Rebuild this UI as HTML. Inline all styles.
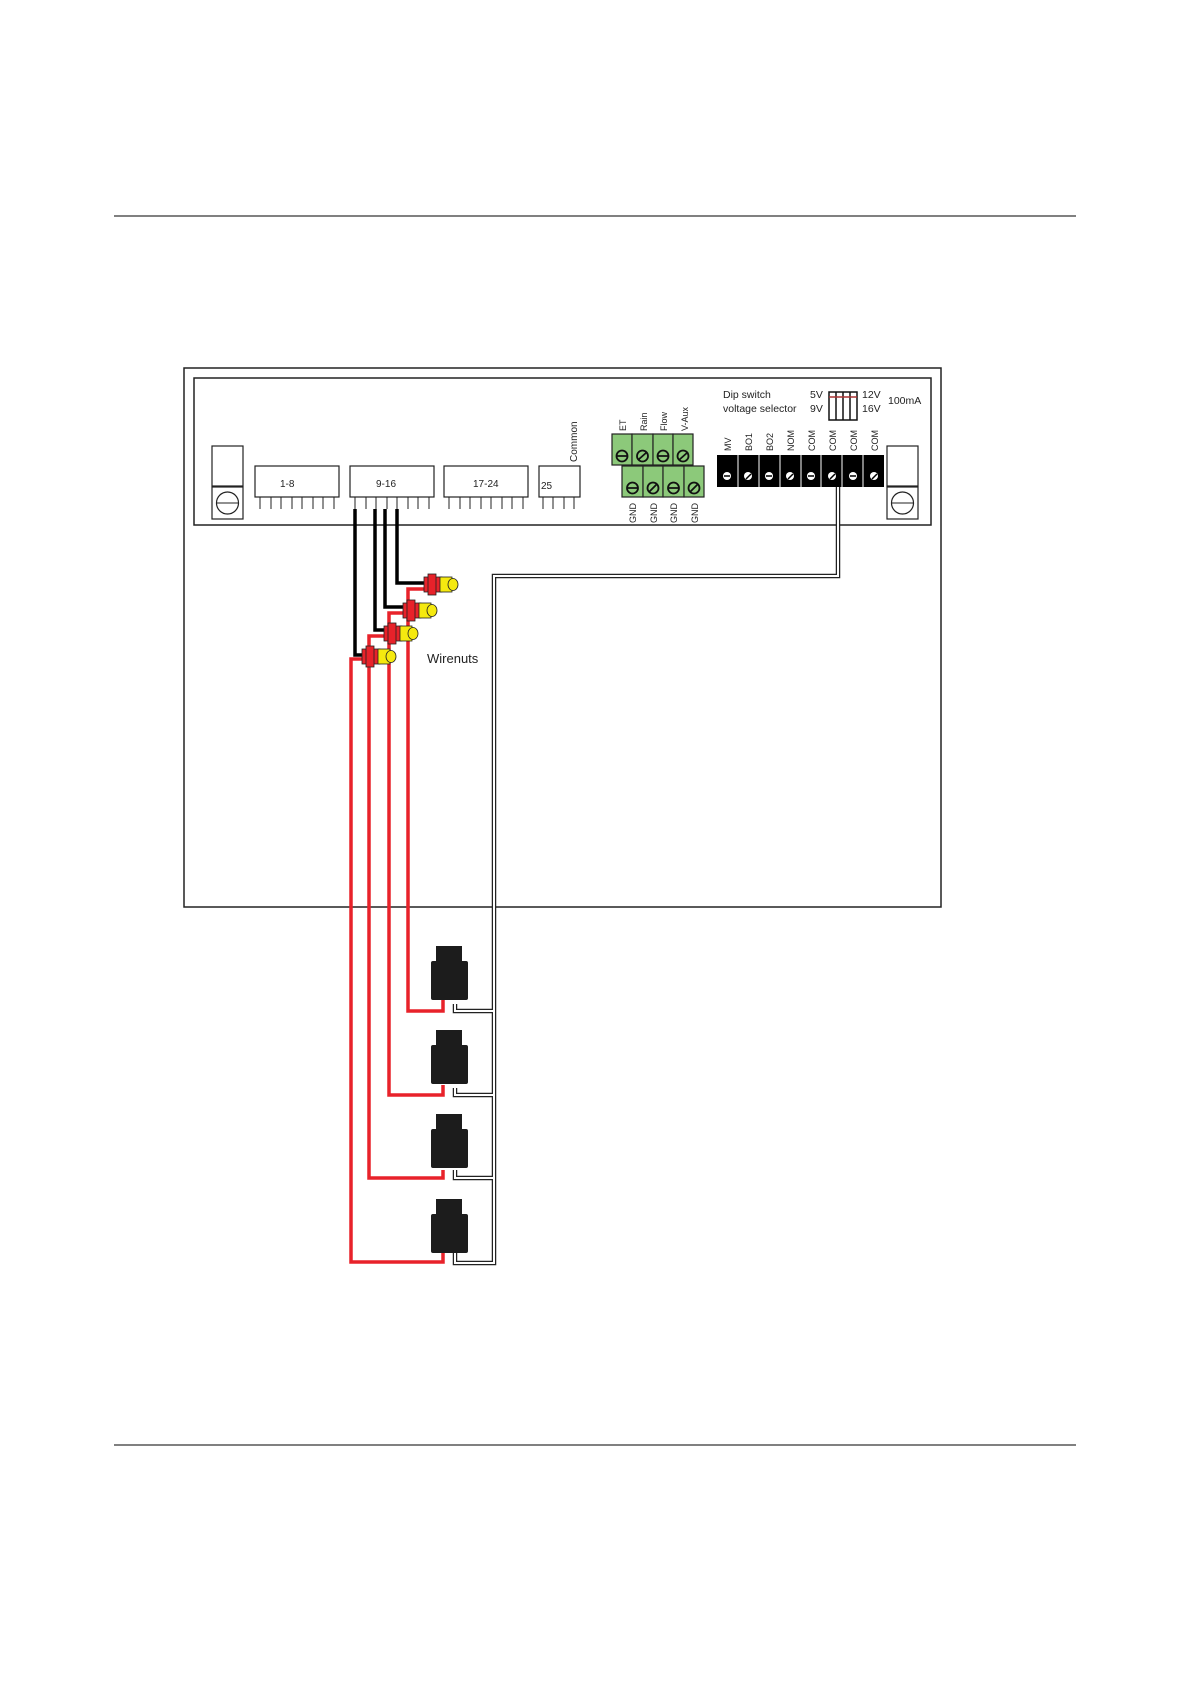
<!DOCTYPE html>
<html><head><meta charset="utf-8"><style>body{margin:0;background:#fff}svg{display:block}text{font-family:"Liberation Sans",sans-serif}</style></head>
<body>
<svg width="1190" height="1684" viewBox="0 0 1190 1684" xmlns="http://www.w3.org/2000/svg">
<line x1="114" y1="216" x2="1076" y2="216" stroke="#000" stroke-width="1"/>
<line x1="114" y1="1445" x2="1076" y2="1445" stroke="#000" stroke-width="1"/>
<rect x="184" y="368" width="757" height="539" fill="none" stroke="#222" stroke-width="1.5"/>
<rect x="194" y="378" width="737" height="147" fill="none" stroke="#222" stroke-width="1.5"/>
<!-- left terminal -->
<rect x="212" y="446" width="31" height="40" fill="#fff" stroke="#222" stroke-width="1.2"/>
<rect x="212" y="487" width="31" height="32" fill="#fff" stroke="#222" stroke-width="1.2"/>
<circle cx="227.5" cy="503" r="11" fill="none" stroke="#222" stroke-width="1.2"/><line x1="216" y1="503" x2="239" y2="503" stroke="#222"/>
<!-- right terminal -->
<rect x="887" y="446" width="31" height="40" fill="#fff" stroke="#222" stroke-width="1.2"/>
<rect x="887" y="487" width="31" height="32" fill="#fff" stroke="#222" stroke-width="1.2"/>
<circle cx="902.5" cy="503" r="11" fill="none" stroke="#222" stroke-width="1.2"/><line x1="891" y1="503" x2="914" y2="503" stroke="#222"/>
<!-- blocks -->
<g stroke="#222" stroke-width="1.2" fill="#fff">
<rect x="255" y="466" width="84" height="31"/><rect x="350" y="466" width="84" height="31"/><rect x="444" y="466" width="84" height="31"/><rect x="539" y="466" width="41" height="31"/>
</g>
<g stroke="#222" stroke-width="1">
<path d="M260 497v12M271 497v12M281 497v12M292 497v12M302 497v12M313 497v12M323 497v12M334 497v12"/>
<path d="M355 497v12M366 497v12M376 497v12M387 497v12M397 497v12M408 497v12M418 497v12M429 497v12"/>
<path d="M449 497v12M460 497v12M470 497v12M481 497v12M491 497v12M502 497v12M512 497v12M523 497v12"/>
<path d="M543 497v12M553 497v12M564 497v12M574 497v12"/>
</g>
<g font-size="10" fill="#222">
<text x="280" y="487">1-8</text><text x="376" y="487">9-16</text><text x="473" y="487">17-24</text><text x="541" y="489">25</text>
<text transform="translate(577,462) rotate(-90)">Common</text>
</g>
<!-- green terminals -->
<g fill="#8cc97a" stroke="#222" stroke-width="1.2">
<rect x="612" y="434" width="20" height="31"/><rect x="632" y="434" width="21" height="31"/><rect x="653" y="434" width="20" height="31"/><rect x="673" y="434" width="20" height="31"/>
<rect x="622" y="466" width="21" height="31"/><rect x="643" y="466" width="20" height="31"/><rect x="663" y="466" width="21" height="31"/><rect x="684" y="466" width="20" height="31"/>
</g>
<g fill="none" stroke="#111" stroke-width="1.8">
<circle cx="622" cy="456" r="5.5"/><circle cx="642.5" cy="456" r="5.5"/><circle cx="663" cy="456" r="5.5"/><circle cx="683" cy="456" r="5.5"/>
<circle cx="632.5" cy="488" r="5.5"/><circle cx="653" cy="488" r="5.5"/><circle cx="673.5" cy="488" r="5.5"/><circle cx="694" cy="488" r="5.5"/>
<path d="M617 456h10M638 460l9-8M658 456h10M679 460l9-8M628 488h10M649 492l8-8M669 488h10M690 492l8-8"/>
</g>
<g font-size="9" fill="#222">
<text transform="translate(626,431) rotate(-90)">ET</text>
<text transform="translate(647,431) rotate(-90)">Rain</text>
<text transform="translate(667,431) rotate(-90)">Flow</text>
<text transform="translate(688,431) rotate(-90)">V-Aux</text>
<text transform="translate(636,523) rotate(-90)">GND</text>
<text transform="translate(657,523) rotate(-90)">GND</text>
<text transform="translate(677,523) rotate(-90)">GND</text>
<text transform="translate(698,523) rotate(-90)">GND</text>
</g>
<!-- black terminals -->
<rect x="717" y="455" width="167" height="32" fill="#000"/>
<g stroke="#fff" stroke-width="1"><path d="M738 455v32M759 455v32M780 455v32M801 455v32M821 455v32M842 455v32M863 455v32"/></g>
<g fill="#fff"><circle cx="727" cy="476" r="4"/><circle cx="748" cy="476" r="4"/><circle cx="769" cy="476" r="4"/><circle cx="790" cy="476" r="4"/><circle cx="811" cy="476" r="4"/><circle cx="832" cy="476" r="4"/><circle cx="853" cy="476" r="4"/><circle cx="874" cy="476" r="4"/></g>
<g stroke="#000" stroke-width="1.5"><path d="M724 476h6M746 479l5-5M766 476h6M788 479l5-5M808 476h6M830 479l5-5M850 476h6M872 479l5-5"/></g>
<g font-size="9" fill="#222">
<text transform="translate(731,451) rotate(-90)">MV</text>
<text transform="translate(752,451) rotate(-90)">BO1</text>
<text transform="translate(773,451) rotate(-90)">BO2</text>
<text transform="translate(794,451) rotate(-90)">NOM</text>
<text transform="translate(815,451) rotate(-90)">COM</text>
<text transform="translate(836,451) rotate(-90)">COM</text>
<text transform="translate(857,451) rotate(-90)">COM</text>
<text transform="translate(878,451) rotate(-90)">COM</text>
</g>
<g font-size="10.5" fill="#222">
<text x="723" y="398">Dip switch</text><text x="723" y="412">voltage selector</text>
<text x="810" y="398">5V</text><text x="810" y="412">9V</text>
<text x="862" y="398">12V</text><text x="862" y="412">16V</text>
<text x="888" y="404">100mA</text>
</g>
<rect x="829" y="392" width="28" height="28" fill="#fff" stroke="#111" stroke-width="1.5"/>
<path d="M836 392v28M843 392v28M850 392v28" stroke="#111" stroke-width="1.5"/>
<line x1="829" y1="397" x2="857" y2="397" stroke="#a33" stroke-width="1.5"/>
<!-- gray double wire -->
<g fill="none" stroke="#222" stroke-width="4.5"><path d="M838 487V576H494V1263H455V1248M494 1178H455V1170M494 1095H455V1088M494 1011H455V1004"/></g>
<g fill="none" stroke="#fff" stroke-width="2"><path d="M838 487V576H494V1263H455V1248M494 1178H455V1170M494 1095H455V1088M494 1011H455V1004"/></g>
<!-- red wires -->
<g fill="none" stroke="#e8222a" stroke-width="3.5">
<path d="M426 589H408V1011H443V1000"/>
<path d="M405 613H389V1095H443V1085"/>
<path d="M386 636H369V1178H443V1170"/>
<path d="M363 659H351V1262H443V1252"/>
</g>
<!-- black wires -->
<g fill="none" stroke="#000" stroke-width="3.5">
<path d="M397 509V583H424"/>
<path d="M385 509V607H403"/>
<path d="M375 509V630H384"/>
<path d="M355 509V655H362"/>
</g>
<!-- wirenuts -->
<g stroke="#222" stroke-width="0.8">
<g transform="translate(424,576)"><rect x="0" y="1" width="18" height="15" fill="#e8222a"/><rect x="4" y="-2" width="8" height="21" fill="#e8222a"/><rect x="16" y="1" width="12" height="15" fill="#f5e90f"/><ellipse cx="29" cy="8.5" rx="5" ry="6" fill="#f5e90f"/></g>
<g transform="translate(403,602)"><rect x="0" y="1" width="18" height="15" fill="#e8222a"/><rect x="4" y="-2" width="8" height="21" fill="#e8222a"/><rect x="16" y="1" width="12" height="15" fill="#f5e90f"/><ellipse cx="29" cy="8.5" rx="5" ry="6" fill="#f5e90f"/></g>
<g transform="translate(384,625)"><rect x="0" y="1" width="18" height="15" fill="#e8222a"/><rect x="4" y="-2" width="8" height="21" fill="#e8222a"/><rect x="16" y="1" width="12" height="15" fill="#f5e90f"/><ellipse cx="29" cy="8.5" rx="5" ry="6" fill="#f5e90f"/></g>
<g transform="translate(362,648)"><rect x="0" y="1" width="18" height="15" fill="#e8222a"/><rect x="4" y="-2" width="8" height="21" fill="#e8222a"/><rect x="16" y="1" width="12" height="15" fill="#f5e90f"/><ellipse cx="29" cy="8.5" rx="5" ry="6" fill="#f5e90f"/></g>
</g>
<text x="427" y="663" font-size="13" fill="#222">Wirenuts</text>
<!-- solenoids -->
<g fill="#1c1c1c">
<rect x="436" y="946" width="26" height="15"/><rect x="431" y="961" width="37" height="39" rx="2"/>
<rect x="436" y="1030" width="26" height="15"/><rect x="431" y="1045" width="37" height="39" rx="2"/>
<rect x="436" y="1114" width="26" height="15"/><rect x="431" y="1129" width="37" height="39" rx="2"/>
<rect x="436" y="1199" width="26" height="15"/><rect x="431" y="1214" width="37" height="39" rx="2"/>
</g>
</svg>
</body></html>
